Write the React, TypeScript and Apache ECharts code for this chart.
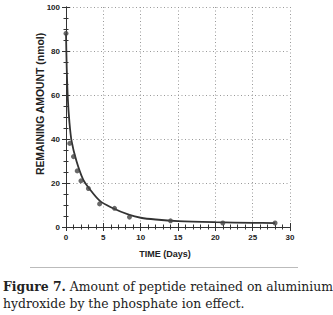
import React, { useEffect, useRef } from "react";
import * as echarts from "echarts";

const measuredDays = [0, 0.5, 1, 1.5, 2, 3, 4.5, 6.5, 8.5, 14, 21, 28];
const measuredAmount = [88, 38, 32, 25.5, 21, 17.5, 10.5, 8.5, 4.5, 2.8, 1.8, 1.8];

const fitDays = [0, 0.1, 0.25, 0.45, 0.75, 1.4, 2.3, 3, 4.5, 6, 8.5, 10, 12, 15, 20, 25, 28];
const fitAmount = [88, 72, 58, 48, 39, 30, 21.5, 18, 12, 9, 5.5, 4.2, 3.4, 2.7, 2.2, 1.9, 1.8];

const xTicks = [0, 5, 10, 15, 20, 25, 30];
const yTicks = [0, 20, 40, 60, 80, 100];

const xTitle = "TIME (Days)";
const yTitle = "REMAINING AMOUNT (nmol)";
const captionBold = "Figure 7.";
const captionLine1 = " Amount of peptide retained on aluminium";
const captionLine2 = "hydroxide by the phosphate ion effect.";

export default function App() {
  const ref = useRef<HTMLDivElement>(null);
  useEffect(() => {
    if (!ref.current) return;
    const chart = echarts.init(ref.current, undefined, { renderer: "svg" });
    const axisColor = "#333";
    const gridLine = { show: true, lineStyle: { color: "#999", type: [1, 2.5] as any, width: 1 } };
    const noMinorSplit = { show: false };
    const xCommon = {
      type: "value" as const,
      min: xTicks[0],
      max: xTicks[xTicks.length - 1],
      interval: xTicks[1] - xTicks[0],
      axisLine: { show: true, lineStyle: { color: axisColor, width: 1 } },
      axisTick: { show: true, inside: true, length: 4, lineStyle: { color: axisColor } },
      minorTick: { show: true, splitNumber: 5, length: 2.5, lineStyle: { color: axisColor } },
      minorSplitLine: noMinorSplit,
    };
    const yCommon = {
      type: "value" as const,
      min: yTicks[0],
      max: yTicks[yTicks.length - 1],
      interval: yTicks[1] - yTicks[0],
      axisLine: { show: true, lineStyle: { color: axisColor, width: 1 } },
      axisTick: { show: true, inside: true, length: 4, lineStyle: { color: axisColor } },
      minorTick: { show: true, splitNumber: 4, length: 2.5, lineStyle: { color: axisColor } },
      minorSplitLine: noMinorSplit,
    };
    chart.setOption({
      animation: false,
      backgroundColor: "#fff",
      grid: { left: 66, top: 7, width: 224, height: 220, containLabel: false },
      xAxis: [
        {
          ...xCommon,
          position: "bottom",
          splitLine: gridLine,
          axisLabel: { fontFamily: "Liberation Sans, Arial", fontSize: 8, fontWeight: "bold", color: "#222", margin: 6 },
        },
        { ...xCommon, position: "top", splitLine: { show: false }, axisLabel: { show: false } },
      ],
      yAxis: [
        {
          ...yCommon,
          position: "left",
          splitLine: gridLine,
          axisLabel: { fontFamily: "Liberation Sans, Arial", fontSize: 8, fontWeight: "bold", color: "#222", margin: 6 },
        },
        { ...yCommon, position: "right", splitLine: { show: false }, axisLabel: { show: false } },
      ],
      series: [
        {
          type: "line",
          data: fitDays.map((d, i) => [d, fitAmount[i]]),
          smooth: 0.3,
          showSymbol: false,
          lineStyle: { color: "#333", width: 1.8 },
          z: 2,
        },
        {
          type: "scatter",
          data: measuredDays.map((d, i) => [d, measuredAmount[i]]),
          symbol: "circle",
          symbolSize: 5,
          itemStyle: { color: "#444" },
          z: 3,
        },
      ],
      graphic: [
        {
          type: "text",
          x: 165,
          y: 254,
          style: {
            text: xTitle,
            fontFamily: "Liberation Sans, Arial",
            fontSize: 9,
            fontWeight: "bold",
            fill: "#222",
            align: "center",
            verticalAlign: "middle",
          },
        },
        {
          type: "text",
          x: 40.5,
          y: 104,
          rotation: Math.PI / 2,
          style: {
            text: yTitle,
            fontFamily: "Liberation Sans, Arial",
            fontSize: 10.4,
            fontWeight: "bold",
            fill: "#222",
            align: "center",
            verticalAlign: "middle",
          },
        },
        {
          type: "line",
          shape: { x1: 30, y1: 267.5, x2: 298, y2: 267.5 },
          style: { stroke: "#bbb", lineWidth: 1 },
        },
        {
          type: "text",
          x: 3,
          y: 286,
          style: {
            text: "{b|" + captionBold + "}{r|" + captionLine1 + "}",
            verticalAlign: "middle",
            rich: {
              b: { fontFamily: "DejaVu Serif", fontSize: 12.4, fontWeight: "bold", fill: "#222" },
              r: { fontFamily: "DejaVu Serif", fontSize: 12.4, fill: "#222" },
            },
          } as any,
        },
        {
          type: "text",
          x: 3,
          y: 303,
          style: {
            text: captionLine2,
            fontFamily: "DejaVu Serif",
            fontSize: 12.4,
            fill: "#222",
            verticalAlign: "middle",
          },
        },
      ],
    });
    return () => chart.dispose();
  }, []);
  return <div ref={ref} style={{ width: 333, height: 315, position: "absolute", left: 0, top: 0 }} />;
}
